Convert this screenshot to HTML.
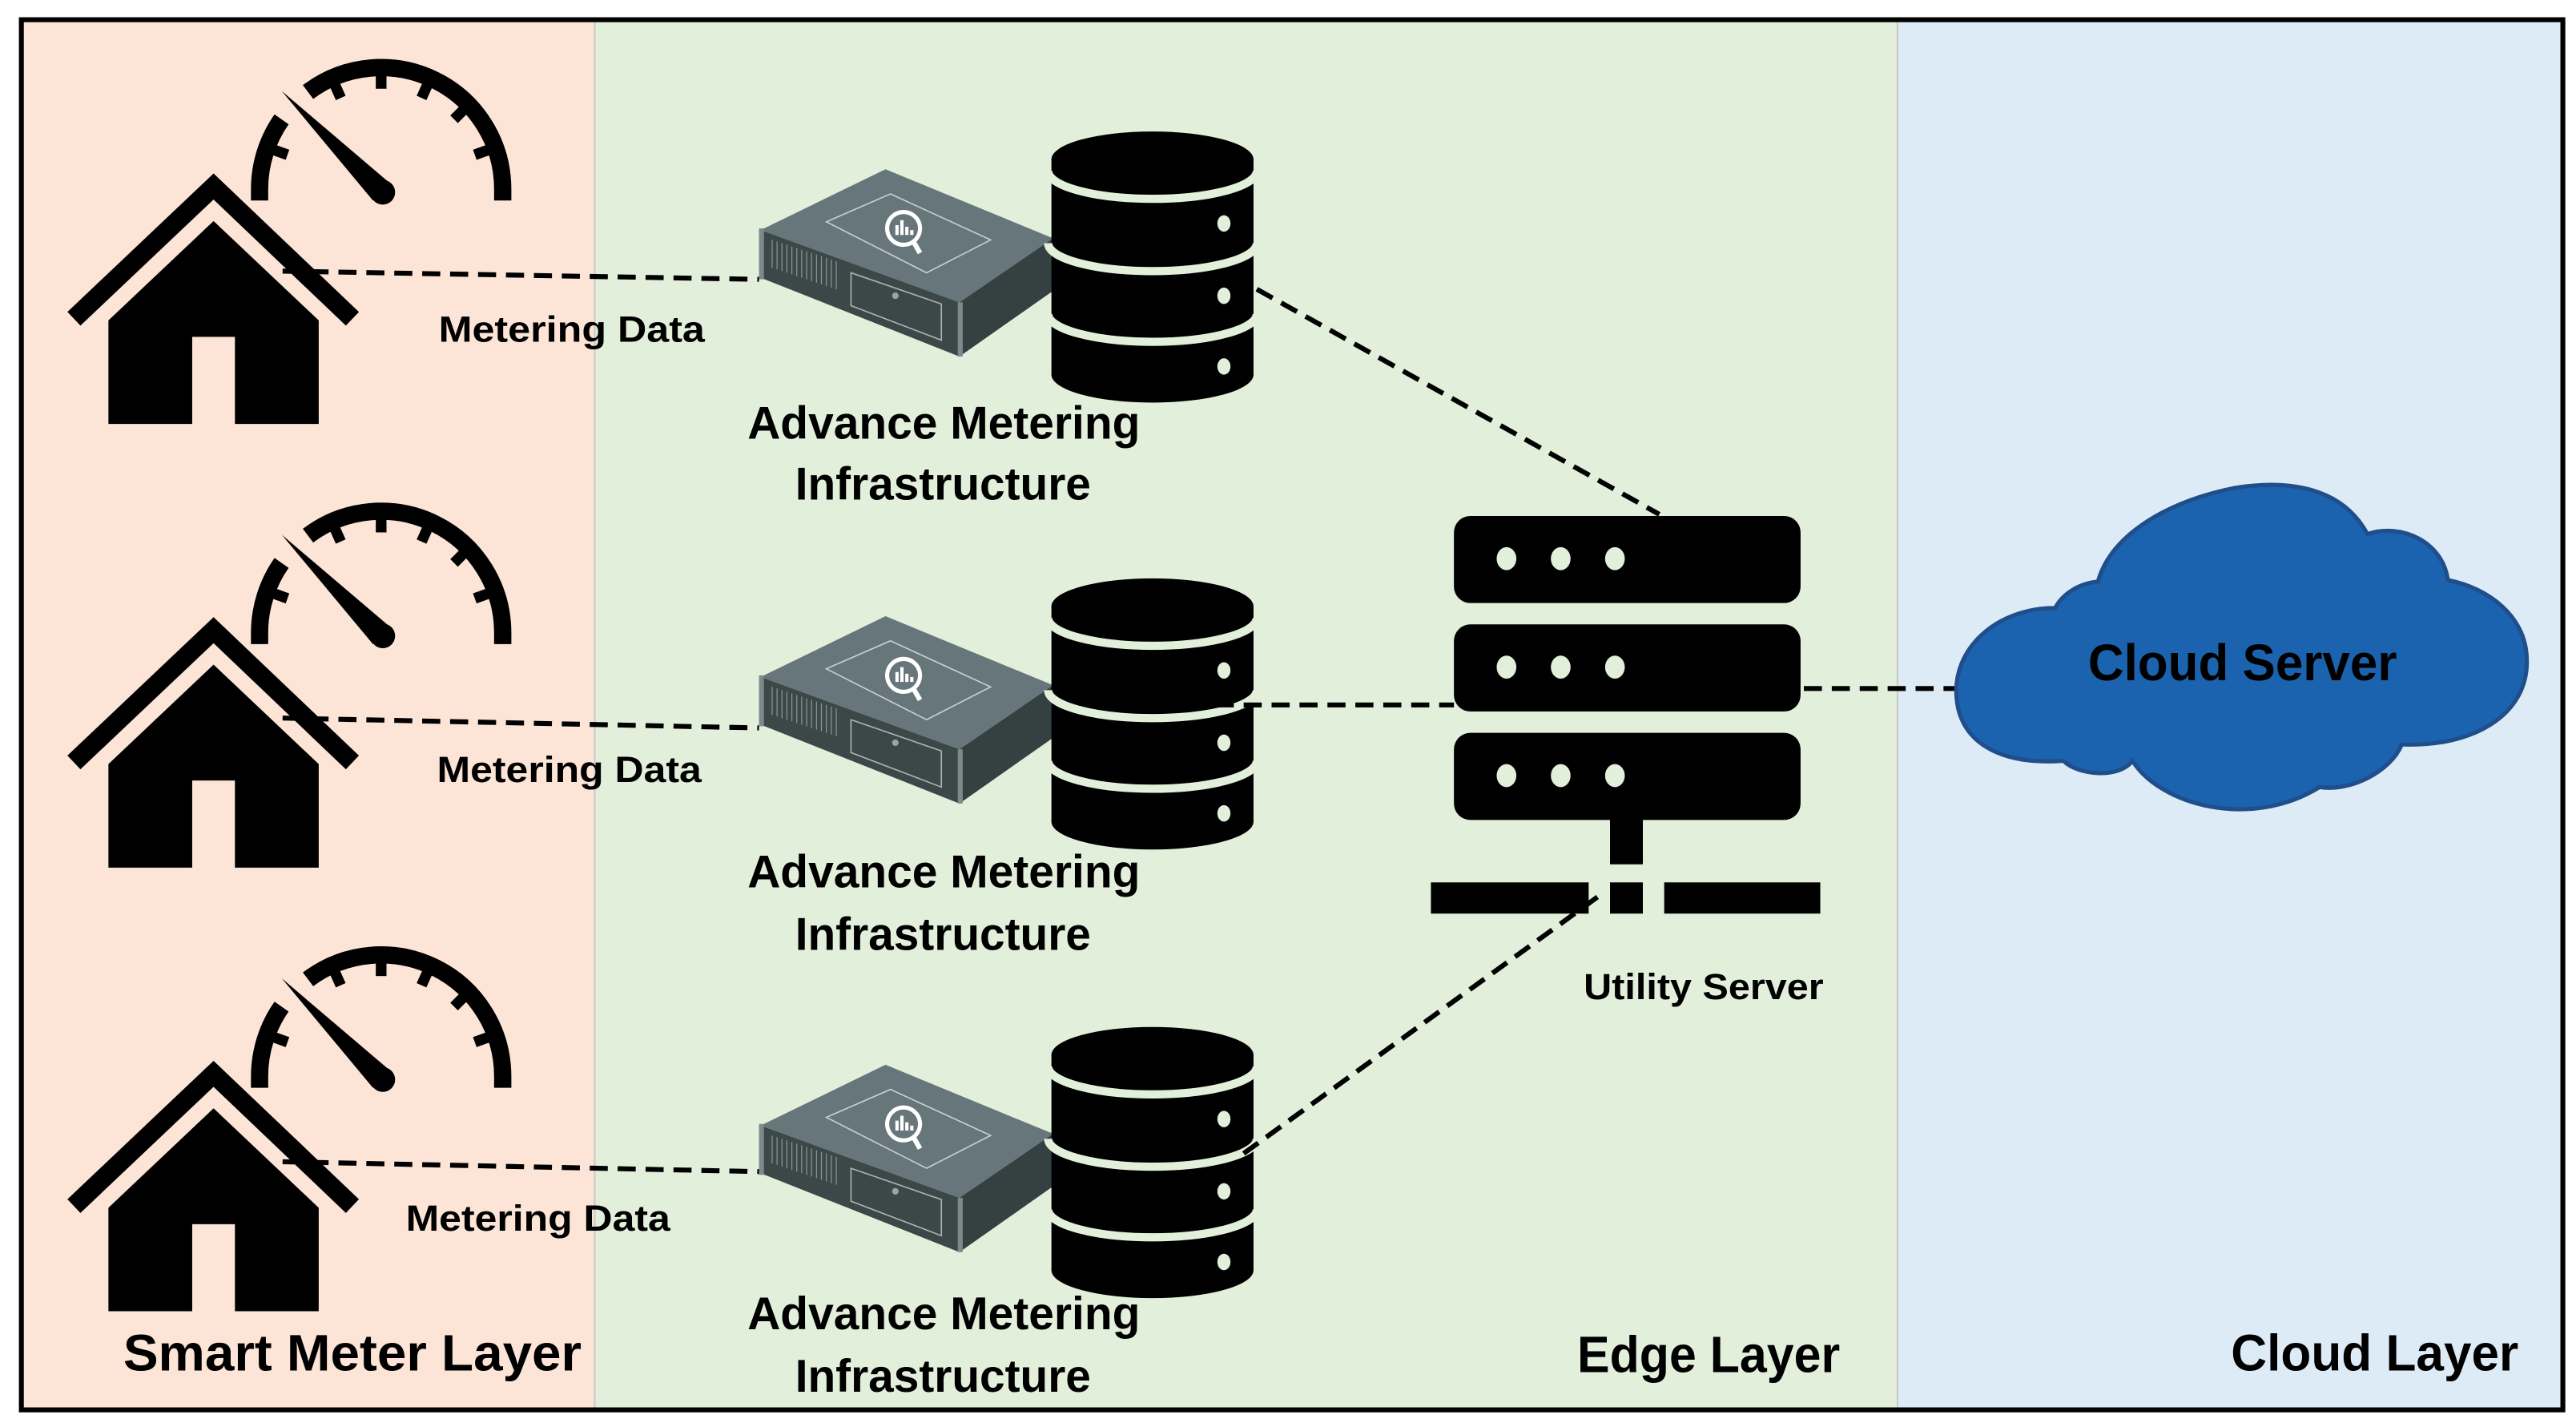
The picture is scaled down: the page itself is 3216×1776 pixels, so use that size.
<!DOCTYPE html>
<html><head><meta charset="utf-8"><style>
html,body{margin:0;padding:0;background:#fff;}
svg{display:block;}
text{font-family:"Liberation Sans",sans-serif;font-weight:bold;fill:#000;}
</style></head><body>
<svg width="3216" height="1776" viewBox="0 0 1568 866" preserveAspectRatio="none" xmlns="http://www.w3.org/2000/svg">
<defs>
<g id="hg">
  <path d="M158,122 L158,115 A74,74 0 0 1 171.4,72.6" fill="none" stroke="#000" stroke-width="10.5"/>
  <path d="M187.5,56 A74,74 0 0 1 306,115 L306,122" fill="none" stroke="#000" stroke-width="10.5"/>
  <g stroke="#000" stroke-width="6.5">
    <line x1="167.2" y1="91.4" x2="175" y2="94.2"/>
    <line x1="204" y1="52" x2="207.4" y2="59.6"/>
    <line x1="232" y1="46" x2="232" y2="54"/>
    <line x1="260" y1="52" x2="256.6" y2="59.6"/>
    <line x1="282.4" y1="66.6" x2="276.4" y2="72.6"/>
    <line x1="296.8" y1="91.4" x2="289" y2="94.2"/>
  </g>
  <polygon points="171.5,55.4 238,112 227,122" fill="#000"/>
  <circle cx="233" cy="117" r="7.5" fill="#000"/>
  <polyline points="45,194 130,113.5 214.5,194" fill="none" stroke="#000" stroke-width="11.5"/>
  <polygon points="66,258 66,195 130,134.5 194,195 194,258" fill="#000"/>
  <rect x="117" y="205" width="26" height="53.5" fill="#fce4d6"/>
</g>
<g id="ami">
  <polygon points="463,140 539,103 641,145 584,184" fill="#66767a"/>
  <polygon points="503,135 542,118 603,146 564,166" fill="none" stroke="#c8d0d0" stroke-width="0.8"/>
  <circle cx="550" cy="139" r="10" fill="none" stroke="#fff" stroke-width="2.5"/>
  <g fill="#fff"><rect x="545" y="137" width="2" height="6"/><rect x="548" y="134" width="2" height="9"/><rect x="551" y="138" width="2" height="5"/><rect x="554" y="140" width="2" height="3"/></g>
  <line x1="556" y1="147" x2="560" y2="154" stroke="#fff" stroke-width="3"/>
  <polygon points="463,140 584,184 584,217 463,169" fill="#3c4848"/>
  <polygon points="584,184 641,145 641,177 584,217" fill="#354040"/>
  <rect x="462" y="139" width="3" height="31" fill="#7d8a8d"/>
  <rect x="583" y="184" width="3" height="33" fill="#7d8a8d"/>
  <g stroke="#8a9595" stroke-width="0.6">
    <line x1="470" y1="146" x2="470" y2="163"/><line x1="473" y1="147" x2="473" y2="164"/><line x1="476" y1="148" x2="476" y2="165"/><line x1="479" y1="149" x2="479" y2="166"/><line x1="482" y1="150" x2="482" y2="167"/><line x1="485" y1="151" x2="485" y2="168"/><line x1="488" y1="152" x2="488" y2="169"/><line x1="491" y1="153" x2="491" y2="170"/><line x1="494" y1="154" x2="494" y2="171"/><line x1="497" y1="155" x2="497" y2="172"/><line x1="500" y1="156" x2="500" y2="173"/><line x1="503" y1="157" x2="503" y2="174"/><line x1="506" y1="158" x2="506" y2="175"/><line x1="509" y1="159" x2="509" y2="176"/>
  </g>
  <polygon points="518,166 573,185 573,207 518,186" fill="none" stroke="#aab3b3" stroke-width="0.8"/>
  <circle cx="545" cy="180" r="2" fill="#9aa4a4"/>
  <rect x="640" y="97" width="123" height="131" fill="#000"/>
  <ellipse cx="701.5" cy="97" rx="61.5" ry="17" fill="#000"/>
  <ellipse cx="701.5" cy="228" rx="61.5" ry="17" fill="#000"/>
  <g fill="none" stroke="#e2efda" stroke-width="5">
    <path d="M638,104 A63.5,17 0 0 0 765,104"/>
    <path d="M638,148 A63.5,17 0 0 0 765,148"/>
    <path d="M638,191 A63.5,17 0 0 0 765,191"/>
  </g>
  <g fill="#e2efda"><ellipse cx="745" cy="136" rx="4" ry="5"/><ellipse cx="745" cy="180" rx="4" ry="5"/><ellipse cx="745" cy="223" rx="4" ry="5"/></g>
</g>
</defs>
<rect x="0" y="0" width="1568" height="866" fill="#fff"/>
<rect x="14" y="12" width="348" height="846" fill="#fce4d6"/>
<rect x="362" y="12" width="793" height="846" fill="#e2efda"/>
<rect x="1155" y="12" width="405" height="846" fill="#ddebf7"/>
<line x1="362" y1="12" x2="362" y2="858" stroke="#c9c9c9" stroke-width="1"/>
<line x1="1155" y1="12" x2="1155" y2="858" stroke="#c9c9c9" stroke-width="1"/>
<rect x="13" y="12" width="1547" height="846" fill="none" stroke="#000" stroke-width="3"/>

<use href="#hg"/>
<use href="#hg" y="270"/>
<use href="#hg" y="540"/>
<use href="#ami"/>
<use href="#ami" y="272"/>
<use href="#ami" y="545"/>

<g stroke="#000" stroke-width="3" stroke-dasharray="11,6" fill="none">
  <line x1="172" y1="165" x2="462" y2="170"/>
  <line x1="172" y1="437" x2="462" y2="443"/>
  <line x1="172" y1="707" x2="462" y2="713"/>
  <line x1="765" y1="176" x2="1010" y2="313"/>
  <line x1="740" y1="429" x2="885" y2="429"/>
  <line x1="757" y1="702" x2="975" y2="544"/>
  <line x1="1098" y1="419" x2="1194" y2="419"/>
</g>

<g fill="#000">
  <rect x="885" y="314" width="211" height="53" rx="10"/>
  <rect x="885" y="380" width="211" height="53" rx="10"/>
  <rect x="885" y="446" width="211" height="53" rx="10"/>
  <rect x="980" y="498" width="20" height="28"/>
  <rect x="871" y="537" width="96" height="19"/>
  <rect x="980" y="537" width="20" height="19"/>
  <rect x="1013" y="537" width="95" height="19"/>
</g>
<g fill="#e2efda">
  <ellipse cx="917" cy="340" rx="6" ry="7"/><ellipse cx="950" cy="340" rx="6" ry="7"/><ellipse cx="983" cy="340" rx="6" ry="7"/>
  <ellipse cx="917" cy="406" rx="6" ry="7"/><ellipse cx="950" cy="406" rx="6" ry="7"/><ellipse cx="983" cy="406" rx="6" ry="7"/>
  <ellipse cx="917" cy="472" rx="6" ry="7"/><ellipse cx="950" cy="472" rx="6" ry="7"/><ellipse cx="983" cy="472" rx="6" ry="7"/>
</g>

<path d="M1251,370 C1215,370 1188,395 1191,425 C1193,450 1215,466 1256,463 C1265,472 1290,474 1298,463 C1315,490 1370,505 1412,479 C1430,482 1455,470 1462,453 C1505,455 1540,435 1538,400 C1537,375 1515,358 1490,353 C1487,330 1462,318 1441,325 C1425,295 1390,292 1360,297 C1320,305 1285,325 1277,354 C1265,355 1255,362 1251,370 Z" fill="#1b63ae" stroke="#1f4e8a" stroke-width="2.5"/>

<text x="267" y="208" font-size="22" textLength="162" lengthAdjust="spacingAndGlyphs">Metering Data</text>
<text x="266" y="476" font-size="22" textLength="161" lengthAdjust="spacingAndGlyphs">Metering Data</text>
<text x="247" y="749" font-size="22" textLength="161" lengthAdjust="spacingAndGlyphs">Metering Data</text>
<g font-size="28">
<text x="455" y="267" textLength="239" lengthAdjust="spacingAndGlyphs">Advance Metering</text>
<text x="484" y="304" textLength="180" lengthAdjust="spacingAndGlyphs">Infrastructure</text>
<text x="455" y="540" textLength="239" lengthAdjust="spacingAndGlyphs">Advance Metering</text>
<text x="484" y="578" textLength="180" lengthAdjust="spacingAndGlyphs">Infrastructure</text>
<text x="455" y="809" textLength="239" lengthAdjust="spacingAndGlyphs">Advance Metering</text>
<text x="484" y="847" textLength="180" lengthAdjust="spacingAndGlyphs">Infrastructure</text>
</g>
<text x="964" y="608" font-size="22" textLength="146" lengthAdjust="spacingAndGlyphs">Utility Server</text>
<text x="1271" y="414" font-size="31" textLength="188" lengthAdjust="spacingAndGlyphs">Cloud Server</text>
<g font-size="31">
<text x="75" y="834" textLength="279" lengthAdjust="spacingAndGlyphs">Smart Meter Layer</text>
<text x="960" y="835" textLength="160" lengthAdjust="spacingAndGlyphs">Edge Layer</text>
<text x="1358" y="834" textLength="175" lengthAdjust="spacingAndGlyphs">Cloud Layer</text>
</g>
</svg>
</body></html>
